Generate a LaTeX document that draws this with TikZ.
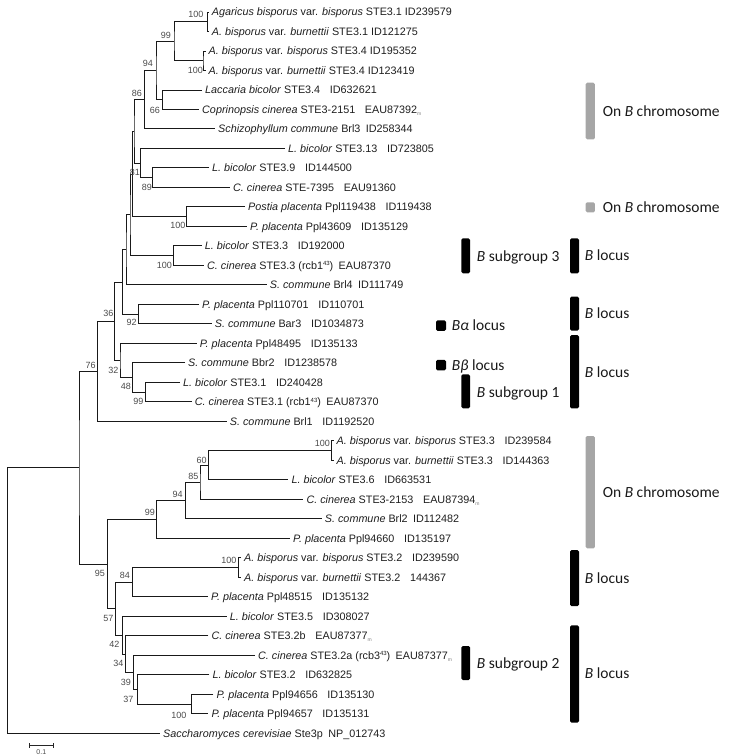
\documentclass[tikz,border=0pt]{standalone}
\usepackage{fontspec}
\setmainfont{Liberation Sans}
\newfontfamily\carlito{Carlito}
\definecolor{barg}{HTML}{A6A6A6}
\definecolor{ink}{HTML}{1E1E1E}
\definecolor{bsc}{HTML}{4A4A4A}
\newcommand{\subm}{\raisebox{-0.4ex}{\fontsize{5}{5}\selectfont\color{gray}m}}
\newcommand{\supn}[1]{\raisebox{0.6ex}{\fontsize{6}{6}\selectfont #1}}
\newcommand{\wg}{\hspace{0.9em}}
\newcommand{\mg}{\hspace{0.5em}}
\begin{document}
\begin{tikzpicture}[x=1pt,y=-1pt,
  br/.style={line width=1pt, draw=black!90},
  leaf/.style={anchor=base west, inner sep=0pt, xshift=3pt, yshift=-3.9pt, font=\fontsize{10.8}{12}\selectfont, text=ink},
  bs/.style={inner sep=0pt, font=\fontsize{9}{10}\selectfont, text=bsc},
  gbar/.style={fill=barg, draw=none, rounded corners=1.5pt, inner sep=0pt, minimum width=9.3pt},
  kbar/.style={fill=black, draw=none, rounded corners=1.5pt, inner sep=0pt, minimum width=9pt},
  rl/.style={anchor=base west, inner sep=0pt, yshift=-5pt, font=\carlito\fontsize{15.5}{17}\selectfont, text=black!90}]
\useasboundingbox (0,0) rectangle (734,756);
% leaves
\coordinate (l1) at (208.7,12.0);
\coordinate (l2) at (208.7,31.5);
\coordinate (l3) at (205.5,51.0);
\coordinate (l4) at (205.5,70.5);
\coordinate (l5) at (202,90.0);
\coordinate (l6) at (199,109.5);
\coordinate (l7) at (215,128.9);
\coordinate (l8) at (285,148.4);
\coordinate (l9) at (209,167.9);
\coordinate (l10) at (230,187.4);
\coordinate (l11) at (245,206.9);
\coordinate (l12) at (247,226.4);
\coordinate (l13) at (201.7,245.9);
\coordinate (l14) at (204,265.4);
\coordinate (l15) at (266.7,284.9);
\coordinate (l16) at (199,304.4);
\coordinate (l17) at (211.7,323.8);
\coordinate (l18) at (196.7,343.3);
\coordinate (l19) at (185,362.8);
\coordinate (l20) at (180,382.3);
\coordinate (l21) at (191.7,401.8);
\coordinate (l22) at (226.7,421.3);
\coordinate (l23) at (333.5,440.8);
\coordinate (l24) at (333.5,460.3);
\coordinate (l25) at (288.3,479.8);
\coordinate (l26) at (303.3,499.3);
\coordinate (l27) at (321.7,518.7);
\coordinate (l28) at (290,538.2);
\coordinate (l29) at (241,557.7);
\coordinate (l30) at (241,577.2);
\coordinate (l31) at (208,596.7);
\coordinate (l32) at (226.7,616.2);
\coordinate (l33) at (208.3,635.7);
\coordinate (l34) at (255,655.2);
\coordinate (l35) at (209.3,674.7);
\coordinate (l36) at (213.3,694.2);
\coordinate (l37) at (208.3,713.7);
\coordinate (l38) at (160,733.1);
% internal nodes
\coordinate (n12) at (207.7,21.7);
\coordinate (n34) at (203,60.7);
\coordinate (n99a) at (174,41.2);
\coordinate (n66) at (162.3,99.7);
\coordinate (n94a) at (156,70.5);
\coordinate (n86) at (144.3,99.7);
\coordinate (n89) at (152.3,177.7);
\coordinate (n81) at (140.7,163.0);
\coordinate (na) at (134,131.4);
\coordinate (npo) at (186.7,216.7);
\coordinate (nb) at (132.6,174.0);
\coordinate (n33) at (173.3,255.6);
\coordinate (nc) at (130,214.8);
\coordinate (nd) at (126,249.9);
\coordinate (n92) at (138.3,314.1);
\coordinate (ne) at (122.5,282.0);
\coordinate (n99b) at (145.7,392.0);
\coordinate (n48) at (132.7,377.4);
\coordinate (n32) at (120,360.4);
\coordinate (n36) at (114.3,321.2);
\coordinate (n76) at (97.5,371.2);
\coordinate (n2324) at (331.7,450.5);
\coordinate (n60) at (208.3,465.2);
\coordinate (n85) at (200,482.2);
\coordinate (n94b) at (185.3,500.5);
\coordinate (n99c) at (156.7,519.4);
\coordinate (n2930) at (238.3,567.5);
\coordinate (n84) at (132.5,582.1);
\coordinate (n3637) at (191.7,704.0);
\coordinate (n37) at (137.7,689.3);
\coordinate (n39) at (133.3,672.2);
\coordinate (n34b) at (125.3,654.0);
\coordinate (n42) at (122.3,635.1);
\coordinate (n57) at (115.7,608.6);
\coordinate (n95) at (107.3,564.0);
\coordinate (nin) at (79,467.6);
\coordinate (nroot) at (7.3,600.4);
% branches
\draw[br] (l1) -| (n12) |- (l2);
\draw[br] (l3) -| (n34) |- (l4);
\draw[br] (n12) -| (n99a) |- (n34);
\draw[br] (l5) -| (n66) |- (l6);
\draw[br] (n99a) -| (n94a) |- (n66);
\draw[br] (n94a) -| (n86) |- (l7);
\draw[br] (l9) -| (n89) |- (l10);
\draw[br] (l8) -| (n81) |- (n89);
\draw[br] (n86) -| (na) |- (n81);
\draw[br] (l11) -| (npo) |- (l12);
\draw[br] (na) -| (nb) |- (npo);
\draw[br] (l13) -| (n33) |- (l14);
\draw[br] (nb) -| (nc) |- (n33);
\draw[br] (nc) -| (nd) |- (l15);
\draw[br] (l16) -| (n92) |- (l17);
\draw[br] (nd) -| (ne) |- (n92);
\draw[br] (l20) -| (n99b) |- (l21);
\draw[br] (l19) -| (n48) |- (n99b);
\draw[br] (l18) -| (n32) |- (n48);
\draw[br] (ne) -| (n36) |- (n32);
\draw[br] (n36) -| (n76) |- (l22);
\draw[br] (l23) -| (n2324) |- (l24);
\draw[br] (n2324) -| (n60) |- (l25);
\draw[br] (n60) -| (n85) |- (l26);
\draw[br] (n85) -| (n94b) |- (l27);
\draw[br] (n94b) -| (n99c) |- (l28);
\draw[br] (l29) -| (n2930) |- (l30);
\draw[br] (n2930) -| (n84) |- (l31);
\draw[br] (l36) -| (n3637) |- (l37);
\draw[br] (l35) -| (n37) |- (n3637);
\draw[br] (l34) -| (n39) |- (n37);
\draw[br] (l33) -| (n34b) |- (n39);
\draw[br] (l32) -| (n42) |- (n34b);
\draw[br] (n84) -| (n57) |- (n42);
\draw[br] (n99c) -| (n95) |- (n57);
\draw[br] (n76) -| (nin) |- (n95);
\draw[br] (nin) -| (nroot) |- (l38);
% leaf labels
\node[leaf] (t1) at (l1) {\textit{Agaricus bisporus} var. \textit{bisporus} STE3.1 ID239579};
\node[leaf] (t2) at (l2) {\textit{A. bisporus} var. \textit{burnettii} STE3.1 ID121275};
\node[leaf] (t3) at (l3) {\textit{A. bisporus} var. \textit{bisporus} STE3.4 ID195352};
\node[leaf] (t4) at (l4) {\textit{A. bisporus} var. \textit{burnettii} STE3.4 ID123419};
\node[leaf] (t5) at (l5) {\textit{Laccaria bicolor} STE3.4\wg ID632621};
\node[leaf] (t6) at (l6) {\textit{Coprinopsis cinerea} STE3-2151\wg EAU87392\subm};
\node[leaf] (t7) at (l7) {\textit{Schizophyllum commune} Brl3\mg ID258344};
\node[leaf] (t8) at (l8) {\textit{L. bicolor} STE3.13\wg ID723805};
\node[leaf] (t9) at (l9) {\textit{L. bicolor} STE3.9\wg ID144500};
\node[leaf] (t10) at (l10) {\textit{C. cinerea} STE-7395\wg EAU91360};
\node[leaf] (t11) at (l11) {\textit{Postia placenta} Ppl119438\wg ID119438};
\node[leaf] (t12) at (l12) {\textit{P. placenta} Ppl43609\wg ID135129};
\node[leaf] (t13) at (l13) {\textit{L. bicolor} STE3.3\wg ID192000};
\node[leaf] (t14) at (l14) {\textit{C. cinerea} STE3.3 (rcb1\supn{43})\mg EAU87370};
\node[leaf] (t15) at (l15) {\textit{S. commune} Brl4\mg ID111749};
\node[leaf] (t16) at (l16) {\textit{P. placenta} Ppl110701\wg ID110701};
\node[leaf] (t17) at (l17) {\textit{S. commune} Bar3\wg ID1034873};
\node[leaf] (t18) at (l18) {\textit{P. placenta} Ppl48495\wg ID135133};
\node[leaf] (t19) at (l19) {\textit{S. commune} Bbr2\wg ID1238578};
\node[leaf] (t20) at (l20) {\textit{L. bicolor} STE3.1\wg ID240428};
\node[leaf] (t21) at (l21) {\textit{C. cinerea} STE3.1 (rcb1\supn{43})\mg EAU87370};
\node[leaf] (t22) at (l22) {\textit{S. commune} Brl1\wg ID1192520};
\node[leaf] (t23) at (l23) {\textit{A. bisporus} var. \textit{bisporus} STE3.3\wg ID239584};
\node[leaf] (t24) at (l24) {\textit{A. bisporus} var. \textit{burnettii} STE3.3\wg ID144363};
\node[leaf] (t25) at (l25) {\textit{L. bicolor} STE3.6\wg ID663531};
\node[leaf] (t26) at (l26) {\textit{C. cinerea} STE3-2153\wg EAU87394\subm};
\node[leaf] (t27) at (l27) {\textit{S. commune} Brl2\mg ID112482};
\node[leaf] (t28) at (l28) {\textit{P. placenta} Ppl94660\wg ID135197};
\node[leaf] (t29) at (l29) {\textit{A. bisporus} var. \textit{bisporus} STE3.2\wg ID239590};
\node[leaf] (t30) at (l30) {\textit{A. bisporus} var. \textit{burnettii} STE3.2\wg 144367};
\node[leaf] (t31) at (l31) {\textit{P. placenta} Ppl48515\wg ID135132};
\node[leaf] (t32) at (l32) {\textit{L. bicolor} STE3.5\wg ID308027};
\node[leaf] (t33) at (l33) {\textit{C. cinerea} STE3.2b\wg EAU87377\subm};
\node[leaf] (t34) at (l34) {\textit{C. cinerea} STE3.2a (rcb3\supn{43})\mg EAU87377\subm};
\node[leaf] (t35) at (l35) {\textit{L. bicolor} STE3.2\wg ID632825};
\node[leaf] (t36) at (l36) {\textit{P. placenta} Ppl94656\wg ID135130};
\node[leaf] (t37) at (l37) {\textit{P. placenta} Ppl94657\wg ID135131};
\node[leaf] (t38) at (l38) {\textit{Saccharomyces cerevisiae} Ste3p\mg NP\_012743};
% bootstrap values
\node[bs, anchor=east] (b1) at (203.5,14) {100};
\node[bs] (b2) at (166,35) {99};
\node[bs, anchor=east] (b3) at (203,70) {100};
\node[bs] (b4) at (148,63) {94};
\node[bs] (b5) at (137,93) {86};
\node[bs] (b6) at (155,110) {66};
\node[bs] (b7) at (135,172) {81};
\node[bs] (b8) at (147,187) {89};
\node[bs, anchor=east] (b9) at (185.5,225) {100};
\node[bs, anchor=east] (b10) at (172,265) {100};
\node[bs] (b11) at (108.3,313.3) {36};
\node[bs] (b12) at (131.7,322.3) {92};
\node[bs] (b13) at (90.7,365) {76};
\node[bs] (b14) at (113.3,370) {32};
\node[bs] (b15) at (126,386.7) {48};
\node[bs] (b16) at (138.3,401) {99};
\node[bs, anchor=east] (b17) at (330,443.3) {100};
\node[bs] (b18) at (201.7,460) {60};
\node[bs] (b19) at (193.3,476) {85};
\node[bs] (b20) at (177.7,494.3) {94};
\node[bs] (b21) at (150,512.7) {99};
\node[bs, anchor=east] (b22) at (236.7,560.7) {100};
\node[bs] (b23) at (100,573.3) {95};
\node[bs] (b24) at (125,575) {84};
\node[bs] (b25) at (108.3,618.3) {57};
\node[bs] (b26) at (114.3,644.3) {42};
\node[bs] (b27) at (118.3,663.3) {34};
\node[bs] (b28) at (126,682.3) {39};
\node[bs] (b29) at (128.3,699.3) {37};
\node[bs, anchor=east] (b30) at (186.7,715) {100};
% scale bar
\coordinate (s1) at (29.3,745.5);
\coordinate (s2) at (53.3,745.5);
\draw[line width=0.8pt, black!85] (s1) -- (s2);
\draw[line width=0.8pt, black!85] ([yshift=2.5pt]s1) -- ([yshift=-2.5pt]s1);
\draw[line width=0.8pt, black!85] ([yshift=2.5pt]s2) -- ([yshift=-2.5pt]s2);
\node[inner sep=0pt, font=\fontsize{7}{8}\selectfont, text=bsc] (sl) at (41.3,752.5) {0.1};
% annotation bars
\node[gbar, minimum height=56.6pt] (g1) at (590.3,111) {};
\node[gbar, minimum height=10pt] (g2) at (590.3,207.3) {};
\node[gbar, minimum height=112.3pt] (g3) at (590.3,492.2) {};
\node[kbar, minimum height=35pt] (k1) at (574.5,255.8) {};
\node[kbar, minimum height=34pt] (k2) at (574.5,313.7) {};
\node[kbar, minimum height=73.3pt] (k3) at (574.5,371.7) {};
\node[kbar, minimum height=56pt] (k4) at (574.5,578) {};
\node[kbar, minimum height=97.4pt] (k5) at (574.5,674) {};
\node[kbar, minimum height=35pt, minimum width=8.7pt] (s3b) at (465.7,255.8) {};
\node[kbar, minimum height=34pt, minimum width=8.7pt] (s1b) at (465.7,391.3) {};
\node[kbar, minimum height=34pt, minimum width=8.7pt] (s2b) at (465.7,663) {};
\node[kbar, minimum height=10.5pt, minimum width=10pt] (qa) at (441,325.5) {};
\node[kbar, minimum height=10.5pt, minimum width=10pt] (qb) at (441,365) {};
% annotation labels
\node[rl] (r1) at (602.7,111) {On \textit{B} chromosome};
\node[rl] (r2) at (602.7,207.3) {On \textit{B} chromosome};
\node[rl] (r3) at (602.7,492.3) {On \textit{B} chromosome};
\node[rl] (r4) at (584.7,255.8) {\textit{B} locus};
\node[rl] (r5) at (584.7,313.3) {\textit{B} locus};
\node[rl] (r6) at (584.7,372.7) {\textit{B} locus};
\node[rl] (r7) at (584.7,578.3) {\textit{B} locus};
\node[rl] (r8) at (584.7,673.3) {\textit{B} locus};
\node[rl] (r9) at (476.7,256) {\textit{B} subgroup 3};
\node[rl] (r10) at (476.7,392.7) {\textit{B} subgroup 1};
\node[rl] (r11) at (476.7,663.3) {\textit{B} subgroup 2};
\node[rl] (r12) at (451.7,325.5) {\textit{Bα} locus};
\node[rl] (r13) at (451.7,365) {\textit{Bβ} locus};
\end{tikzpicture}
\end{document}
